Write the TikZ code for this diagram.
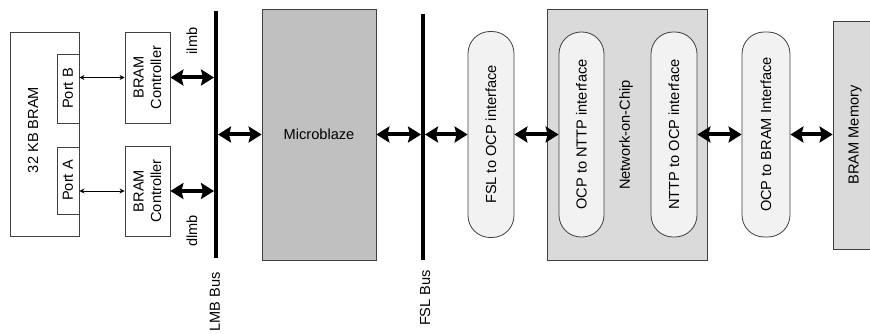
\documentclass[tikz,border=0pt]{standalone}
\usepackage{fontspec}
\setmainfont{Liberation Sans}
\usetikzlibrary{arrows.meta}
\definecolor{linegray}{HTML}{404040}
\definecolor{mbfill}{HTML}{C0C0C0}
\definecolor{nocfill}{HTML}{DADADA}
\definecolor{pillfill}{HTML}{F2F2F2}
\begin{document}
\begin{tikzpicture}[x=1pt,y=-1pt,
  every node/.style={font=\fontsize{14.6}{17.5}\selectfont, inner sep=0pt},
  box/.style={draw=linegray, line width=0.8pt, rotate=90, align=center},
  pill/.style={box, fill=pillfill, rounded corners=22pt},
  bigarrow/.style={line width=4pt, {Stealth[length=13pt,width=16pt,inset=2pt]}-{Stealth[length=13pt,width=16pt,inset=2pt]}},
  thinarrow/.style={line width=0.8pt, {Stealth[length=5pt,width=5pt]}-{Stealth[length=5pt,width=5pt]}},
  bus/.style={line width=4pt}]
\useasboundingbox (0,0) rectangle (870,334);

% left memory block
\node[box, fill=white, minimum width=204pt, minimum height=69pt] (bram) at (44.5,134) {};
\node[rotate=90] (bramlabel) at (33,130) {32 KB BRAM};
\node[box, fill=white, minimum width=69pt, minimum height=22pt] (portB) at (68,88.5) {Port B};
\node[box, fill=white, minimum width=67pt, minimum height=22pt] (portA) at (68,180.5) {Port A};
\node[box, fill=white, minimum width=91pt, minimum height=45pt] (ctrlB) at (147.5,77.5) {BRAM\\Controller};
\node[box, fill=white, minimum width=90pt, minimum height=45pt] (ctrlA) at (147.5,191) {BRAM\\Controller};

\draw[thinarrow] (ctrlB.north -| portB.south) -- (ctrlB.north);
\draw[thinarrow] (ctrlA.north -| portA.south) -- (ctrlA.north);

% LMB bus
\coordinate (lmbtop) at (216,11);
\coordinate (lmbbot) at (216,258);
\draw[bus] (lmbtop) -- (lmbbot);
\node[rotate=90] (lmblabel) at (215,302) {LMB Bus};
\node[rotate=90] (ilmb) at (192,41) {ilmb};
\node[rotate=90] (dlmb) at (192,231) {dlmb};
\draw[bigarrow, shorten >=2pt] (ctrlB.south) -- (ctrlB.south -| lmbtop);
\draw[bigarrow, shorten >=2pt] (ctrlA.south) -- (ctrlA.south -| lmbtop);

% Microblaze
\node[draw=linegray, line width=0.8pt, fill=mbfill, minimum width=114pt, minimum height=251pt] (mb) at (319,134.5) {Microblaze};
\draw[bigarrow, shorten <=2pt] (mb.west -| lmbtop) -- (mb.west);

% FSL bus
\coordinate (fsltop) at (423,14);
\coordinate (fslbot) at (423,260);
\draw[bus] (fsltop) -- (fslbot);
\node[rotate=90] (fsllabel) at (425,298) {FSL Bus};
\draw[bigarrow, shorten >=2pt] (mb.east) -- (mb.east -| fsltop);

% interfaces
\node[pill, minimum width=206pt, minimum height=46pt] (fslocp) at (491,134.5) {FSL to OCP interface};
\draw[bigarrow, shorten <=2pt] (fslocp.north -| fsltop) -- (fslocp.north);

\node[draw=linegray, line width=0.8pt, fill=nocfill, minimum width=160pt, minimum height=251pt] (noc) at (627,134.5) {};
\node[rotate=90] (noclabel) at (626,135) {Network-on-Chip};
\node[pill, minimum width=205pt, minimum height=45pt] (ocpnttp) at (581.5,134.5) {OCP to NTTP interface};
\node[pill, minimum width=205pt, minimum height=46pt] (nttpocp) at (674,134.5) {NTTP to OCP interface};
\node[pill, minimum width=205pt, minimum height=48pt] (ocpbram) at (766,134.5) {OCP to BRAM Interface};
\node[box, fill=nocfill, minimum width=228pt, minimum height=44pt] (bmem) at (855,135) {BRAM Memory};

\draw[bigarrow] (fslocp.south) -- (ocpnttp.north);
\draw[bigarrow] (nttpocp.south) -- (ocpbram.north);
\draw[bigarrow] (ocpbram.south) -- (ocpbram.south -| bmem.north);
\end{tikzpicture}
\end{document}
